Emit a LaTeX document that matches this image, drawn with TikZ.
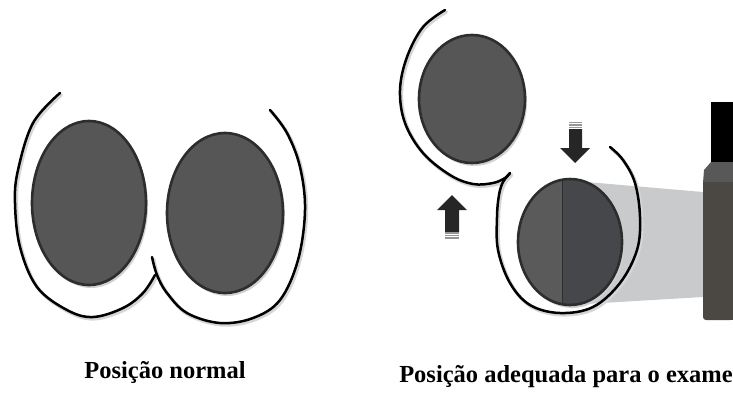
\documentclass[tikz,border=0pt]{standalone}
\usepackage{fontspec}
\setmainfont{Liberation Serif}
\usetikzlibrary{shapes.geometric}
\definecolor{tissuefill}{RGB}{86,86,86}
\definecolor{tissueline}{RGB}{45,45,45}
\definecolor{halfleft}{RGB}{90,90,90}
\definecolor{halfright}{RGB}{70,71,74}
\definecolor{beam}{RGB}{201,202,204}
\definecolor{detbody}{RGB}{75,72,68}
\definecolor{detcap}{RGB}{88,88,88}
\definecolor{arrowdark}{RGB}{38,38,38}
\definecolor{arrowstripe}{RGB}{150,150,150}
\begin{document}
\begin{tikzpicture}[x=1pt,y=-1pt,
  tissue/.style={ellipse, draw=tissueline, line width=2.6pt, fill=tissuefill, inner sep=0pt},
  tissueshadow/.style={ellipse, fill=black!18, inner sep=0pt},
  fold/.style={draw=black, line width=2.5pt, line cap=round},
  foldshadow/.style={draw=black!16, line width=3.4pt, line cap=round},
  label/.style={font=\bfseries\fontsize{24.5}{26}\selectfont, inner sep=0pt, anchor=base},
  arrowbody/.style={fill=arrowdark, draw=none}]
\useasboundingbox (0,0) rectangle (733,392);

% ---------- normal position ----------
\begin{scope}[shift={(1.5,1.8)}]
\draw[foldshadow] plot[smooth,tension=0.6] coordinates {(60,93) (33,123) (18,170) (15,203) (20,247) (37,287) (67,310) (93,317) (123,308) (143,293) (155,275)};
\draw[foldshadow] plot[smooth,tension=0.6] coordinates {(152,257) (157,275) (167,293) (187,313) (220,323) (253,318) (280,300) (298,260) (305,210) (300,167) (287,133) (270,110)};
\end{scope}
\draw[fold] plot[smooth,tension=0.6] coordinates {(60,93) (33,123) (18,170) (15,203) (20,247) (37,287) (67,310) (93,317) (123,308) (143,293) (155,275)};
\draw[fold] plot[smooth,tension=0.6] coordinates {(152,257) (157,275) (167,293) (187,313) (220,323) (253,318) (280,300) (298,260) (305,210) (300,167) (287,133) (270,110)};

\node[tissueshadow, minimum width=114pt, minimum height=164pt] at (91,206) {};
\node[tissue, minimum width=114pt, minimum height=164pt] (leftA) at (89,203) {};
\node[tissueshadow, minimum width=116pt, minimum height=160pt] at (227,216) {};
\node[tissue, minimum width=116pt, minimum height=160pt] (leftB) at (225,213) {};

\node[label] (t1) at (165,378) {Posição normal};

% ---------- position for the exam ----------
% x-ray beam towards the detector
\fill[beam] (575,181) -- (703,192) -- (703,297) -- (585,304) -- cycle;

% detector
\fill[black] (711,102) rectangle (733,163);
\fill[detcap] (711,162) -- (733,162) -- (733,183) -- (703,183) -- (704,170) -- cycle;
\fill[detbody, rounded corners=3pt] (703,182) -- (733,182) -- (733,320) -- (703,320) -- cycle;
\fill[detbody] (703,182) rectangle (733,300);
\fill[detbody] (720,300) rectangle (733,320);

\begin{scope}[shift={(1.5,1.8)}]
\draw[foldshadow] plot[smooth,tension=0.6] coordinates {(445,10) (423,27) (407,57) (400,90) (405,123) (423,153) (450,175) (473,184) (493,183) (505,178) (510,173)};
\draw[foldshadow] plot[smooth,tension=0.6] coordinates {(510,173) (503,182) (499,195) (497,217) (498,250) (510,283) (530,305) (560,313) (593,307) (620,283) (637,250) (640,217) (635,183) (623,160) (610,147)};
\end{scope}
\draw[fold] plot[smooth,tension=0.6] coordinates {(445,10) (423,27) (407,57) (400,90) (405,123) (423,153) (450,175) (473,184) (493,183) (505,178) (510,173)};
\draw[fold] plot[smooth,tension=0.6] coordinates {(510,173) (503,182) (499,195) (497,217) (498,250) (510,283) (530,305) (560,313) (593,307) (620,283) (637,250) (640,217) (635,183) (623,160) (610,147)};

\node[tissueshadow, minimum width=106pt, minimum height=128pt] at (474,102) {};
\node[tissue, minimum width=106pt, minimum height=128pt] (upper) at (472,99) {};

\node[tissueshadow, minimum width=104pt, minimum height=126pt] at (572,245) {};
\begin{scope}
  \clip (570,242) ellipse [x radius=52, y radius=63];
  \fill[halfleft] (510,170) rectangle (562,310);
  \fill[halfright] (562,170) rectangle (630,310);
  \draw[tissueline, line width=0.8pt] (562,170) -- (562,310);
\end{scope}
\node[ellipse, draw=tissueline, line width=2.6pt, inner sep=0pt, minimum width=104pt, minimum height=126pt] (lower) at (570,242) {};

% movement arrows
\fill[arrowbody] (445,232) -- (445,210) -- (437,210) -- (452,195) -- (467,210) -- (459,210) -- (459,232) -- cycle;
\foreach \yy in {233,235.5,238} \fill[arrowstripe] (445,\yy-0.7) rectangle (459,\yy+0.7);
\fill[arrowbody] (569,129) -- (569,148) -- (560,148) -- (575,163) -- (590,148) -- (582,148) -- (582,129) -- cycle;
\foreach \yy in {122.5,125,127.5} \fill[arrowstripe] (569,\yy-0.7) rectangle (582,\yy+0.7);

\node[label] (t2) at (566,382) {Posição adequada para o exame};
\end{tikzpicture}
\end{document}
